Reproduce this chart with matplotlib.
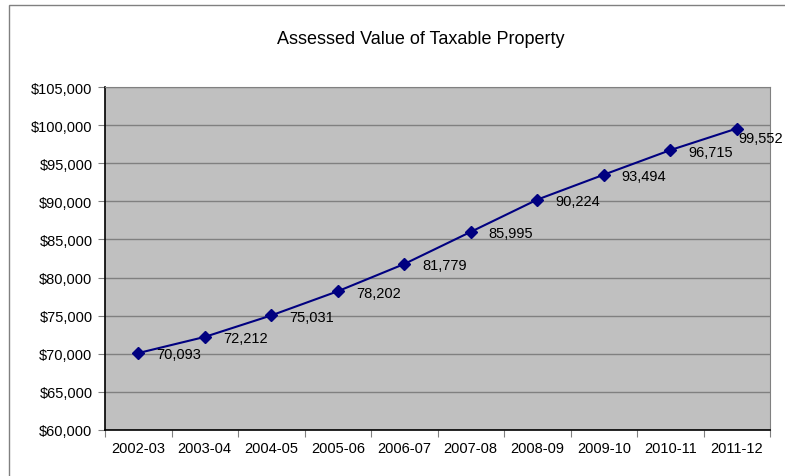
import matplotlib.pyplot as plt
from matplotlib.patches import Rectangle
from matplotlib.ticker import FuncFormatter

plt.rcParams['font.family'] = ['Liberation Sans', 'DejaVu Sans']

years = ['2002-03', '2003-04', '2004-05', '2005-06', '2006-07',
         '2007-08', '2008-09', '2009-10', '2010-11', '2011-12']
values = [70093, 72212, 75031, 78202, 81779, 85995, 90224, 93494, 96715, 99552]

fig = plt.figure(figsize=(7.85, 4.77), dpi=100)

# outer chart border
fig.patches.append(Rectangle((9 / 785, -0.05), 1.2, 1.05 - 6 / 477,
                             transform=fig.transFigure, fill=False,
                             edgecolor='#808080', linewidth=1.0))

ax = fig.add_axes([105 / 785, 1 - 431 / 477, 665 / 785, 343 / 477])
ax.set_facecolor('#C0C0C0')

x = range(len(years))
ax.plot(x, values, color='#000080', linewidth=1.5, marker='D', markersize=6,
        markerfacecolor='#000080', markeredgecolor='#000080', zorder=3)

for i, v in enumerate(values):
    # last label tucked in close to its point so it stays inside the frame
    offset = (13, -1) if i < len(values) - 1 else (1, -7)
    ax.annotate(f'{v:,}', (i, v), xytext=offset, textcoords='offset points',
                ha='left', va='center', fontsize=10.5, color='black',
                zorder=4, annotation_clip=False)

ax.set_xlim(-0.5, len(years) - 0.5)
ax.set_ylim(60000, 105000)
ax.set_yticks(range(60000, 105001, 5000))
ax.yaxis.set_major_formatter(FuncFormatter(lambda v, p: f'${v:,.0f}'))

# ticks sit between categories, labels at centres
ax.set_xticks([i - 0.5 for i in range(len(years) + 1)])
ax.set_xticklabels([])
ax.set_xticks(list(x), minor=True)
ax.set_xticklabels(years, minor=True)
ax.tick_params(axis='x', which='minor', length=0, pad=8, labelsize=10.5)
ax.tick_params(axis='x', which='major', length=5, direction='out', color='#808080')
ax.tick_params(axis='y', length=5, direction='out', color='#808080', labelsize=10.5, pad=4)

ax.grid(axis='y', color='#808080', linewidth=1.0)
ax.set_axisbelow(True)

ax.spines['left'].set_color('black')
ax.spines['bottom'].set_color('black')
ax.spines['left'].set_linewidth(1.2)
ax.spines['bottom'].set_linewidth(1.2)
ax.spines['top'].set_color('#808080')
ax.spines['right'].set_color('#808080')

fig.text(421 / 785, 1 - 40 / 477, 'Assessed Value of Taxable Property',
         ha='center', va='center', fontsize=13)

fig.savefig('out.png', dpi=100)
